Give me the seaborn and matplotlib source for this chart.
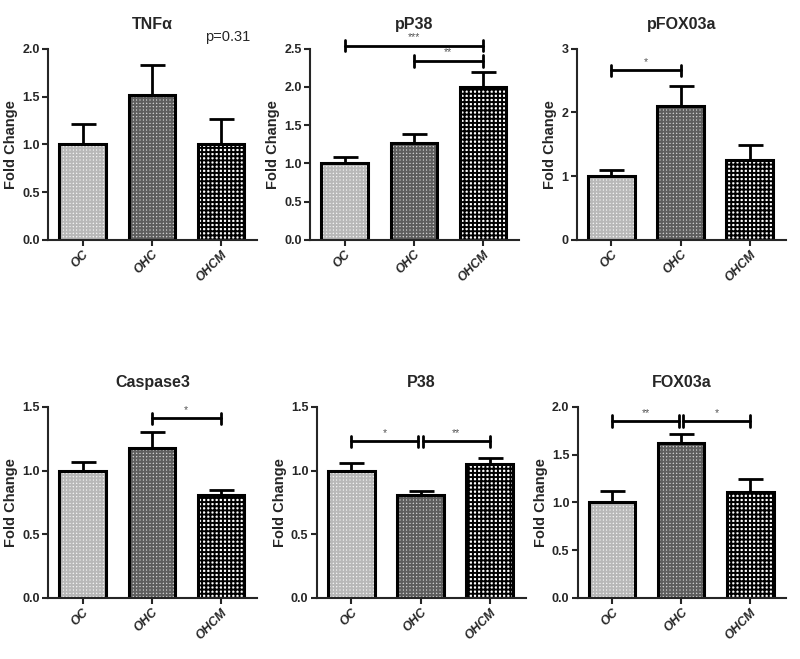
import numpy as np
import matplotlib
matplotlib.use("Agg")
import matplotlib.pyplot as plt
import seaborn as sns

# groups
groups = ["OC", "OHC", "OHCM"]

# panel titles
titles = ["TNFα", "pP38", "pFOX03a", "Caspase3", "P38", "FOX03a"]

# mean fold change per panel
tnf_mean = [1.00, 1.52, 1.00]
pp38_mean = [1.00, 1.27, 2.00]
pfox_mean = [1.00, 2.10, 1.25]
casp_mean = [1.00, 1.18, 0.81]
p38_mean = [1.00, 0.81, 1.05]
fox_mean = [1.00, 1.62, 1.11]

# upper error (SEM)
tnf_err = [0.21, 0.31, 0.26]
pp38_err = [0.08, 0.12, 0.20]
pfox_err = [0.10, 0.32, 0.24]
casp_err = [0.07, 0.12, 0.04]
p38_err = [0.06, 0.03, 0.05]
fox_err = [0.12, 0.10, 0.13]

# y axis ticks
tnf_ticks = [0.0, 0.5, 1.0, 1.5, 2.0]
pp38_ticks = [0.0, 0.5, 1.0, 1.5, 2.0, 2.5]
pfox_ticks = [0, 1, 2, 3]
casp_ticks = [0.0, 0.5, 1.0, 1.5]
p38_ticks = [0.0, 0.5, 1.0, 1.5]
fox_ticks = [0.0, 0.5, 1.0, 1.5, 2.0]

# significance brackets: (from, to, height, stars)
tnf_sig = []
pp38_sig = [(0, 2, 2.54, "***"), (1, 2, 2.34, "**")]
pfox_sig = [(0, 1, 2.66, "*")]
casp_sig = [(1, 2, 1.41, "*")]
p38_sig = [(0, 0.97, 1.23, "*"), (1.03, 2, 1.23, "**")]
fox_sig = [(0, 0.97, 1.85, "**"), (1.03, 2, 1.85, "*")]

means = [tnf_mean, pp38_mean, pfox_mean, casp_mean, p38_mean, fox_mean]
errs = [tnf_err, pp38_err, pfox_err, casp_err, p38_err, fox_err]
ticks = [tnf_ticks, pp38_ticks, pfox_ticks, casp_ticks, p38_ticks, fox_ticks]
sigs = [tnf_sig, pp38_sig, pfox_sig, casp_sig, p38_sig, fox_sig]

sns.set_style("ticks")
plt.rcParams["font.family"] = ["Liberation Sans", "DejaVu Sans"]
plt.rcParams["hatch.linewidth"] = 1.4

face = ["#f2f2f2", "#cdcdcd", "#ffffff"]
hatch_col = ["#b8b8b8", "#5e5e5e", "#000000"]
hatches = ["+++++", "+++++", "++++"]

fig = plt.figure(figsize=(8.0, 6.59), dpi=100)
lefts = [0.06, 0.3875, 0.721, 0.06, 0.396, 0.722]
bottoms = [0.636, 0.636, 0.636, 0.0926, 0.0926, 0.0926]

for k in range(6):
    ax = fig.add_axes([lefts[k], bottoms[k], 0.261, 0.29])
    # hatched fill layer
    sns.barplot(x=groups, y=means[k], ax=ax, width=0.67, palette=face,
                hue=groups, legend=False, linewidth=0, saturation=1)
    for i, p in enumerate(ax.patches):
        p.set_hatch(hatches[i])
        p.set_edgecolor(hatch_col[i])
        p.set_linewidth(0)
    # outline layer
    sns.barplot(x=groups, y=means[k], ax=ax, width=0.67, fill=False,
                color="black", linewidth=2.2, edgecolor="black")
    ax.errorbar(range(3), means[k], yerr=[[0, 0, 0], errs[k]], fmt="none",
                ecolor="black", elinewidth=2, capsize=9, capthick=2, zorder=1)

    top = ticks[k][-1]
    ax.set_ylim(0, top)
    ax.set_xlim(-0.5, 2.52)
    ax.set_yticks(ticks[k])
    if isinstance(ticks[k][0], int):
        ax.set_yticklabels([str(t) for t in ticks[k]])
    else:
        ax.set_yticklabels(["%.1f" % t for t in ticks[k]])
    ax.set_xticks(range(3))
    ax.set_xticklabels(groups, rotation=45, ha="right", rotation_mode="anchor",
                       fontstyle="italic", fontweight="bold", fontsize=9)
    for lab in ax.get_yticklabels():
        lab.set_fontweight("bold")
        lab.set_fontsize(9)
    ax.tick_params(axis="both", width=1.5, length=4, direction="out", pad=2)
    ax.set_ylabel("Fold Change", fontweight="bold", fontsize=10.5, labelpad=3)
    ax.set_xlabel("")
    ax.set_title(titles[k], fontweight="bold", fontsize=11.5, pad=14)
    sns.despine(ax=ax)
    for s in ["left", "bottom"]:
        ax.spines[s].set_linewidth(1.5)

    d = top * 0.03
    for x1, x2, y, txt in sigs[k]:
        ax.plot([x1, x2], [y, y], color="black", lw=2, clip_on=False)
        ax.plot([x1, x1], [y - d, y + d], color="black", lw=2, clip_on=False)
        ax.plot([x2, x2], [y - d, y + d], color="black", lw=2, clip_on=False)
        ax.text((x1 + x2) / 2, y + d * 0.6, txt, ha="center", va="bottom",
                fontsize=7.5, color="#555555")

    if k == 0:
        ax.text(0.86, 1.06, "p=0.31", transform=ax.transAxes, ha="center",
                va="center", fontsize=10.5)

fig.savefig("out.png", dpi=100)
